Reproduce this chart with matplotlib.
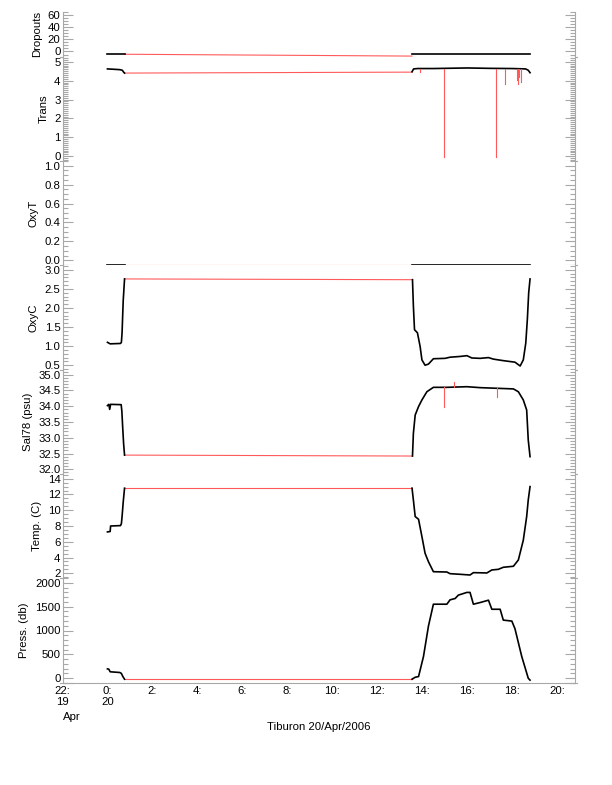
import matplotlib
matplotlib.use("Agg")
import matplotlib.pyplot as plt
import numpy as np

plt.rcParams['font.family'] = ['Liberation Sans', 'DejaVu Sans']
plt.rcParams['font.size'] = 8.2

# ---------------- data (hours since 00:00 20 Apr 2006) ----------------
t1_drop = [0.0, 0.76]
v1_drop = [-4.5, -4.5]
t2_drop = [13.55, 18.82]
v2_drop = [-4.5, -4.5]
gap_drop = [-4.5, -7.5]

t1_trans = [0.0, 0.3, 0.55, 0.66, 0.72, 0.76]
v1_trans = [4.62, 4.60, 4.58, 4.55, 4.45, 4.40]
t2_trans = [13.55, 13.62, 13.8, 14.5, 15.5, 16.0, 17.0, 18.0, 18.6, 18.72, 18.80]
v2_trans = [4.47, 4.62, 4.64, 4.64, 4.66, 4.67, 4.65, 4.64, 4.62, 4.55, 4.42]
gap_trans = [4.40, 4.45]
spike_t = [13.90, 14.99, 17.30, 17.69, 18.21, 18.27, 18.33, 18.41]
spike_v = [4.45, -0.05, -0.05, 3.82, 4.03, 3.82, 4.2, 3.93]

t1_oxyt = [0.0, 0.76]
v1_oxyt = [-0.045, -0.045]
t2_oxyt = [13.57, 18.80]
v2_oxyt = [-0.045, -0.045]
gap_oxyt = [-0.045, -0.045]

t1_oxyc = [0.0, 0.12, 0.58, 0.62, 0.65, 0.70, 0.76]
v1_oxyc = [1.10, 1.06, 1.07, 1.10, 1.35, 2.18, 2.76]
t2_oxyc = [13.57, 13.61, 13.66, 13.79, 13.91, 13.99, 14.13, 14.28, 14.50, 15.02, 15.24,
           15.69, 15.99, 16.21, 16.58, 16.95, 17.17, 17.61, 18.13, 18.36, 18.50, 18.61,
           18.68, 18.74, 18.80]
v2_oxyc = [2.74, 2.05, 1.43, 1.35, 0.99, 0.64, 0.50, 0.53, 0.67, 0.68, 0.71,
           0.73, 0.75, 0.69, 0.68, 0.70, 0.66, 0.62, 0.58, 0.48, 0.64, 1.08,
           1.70, 2.40, 2.76]
gap_oxyc = [2.76, 2.74]

t1_sal = [0.0, 0.06, 0.10, 0.14, 0.61, 0.64, 0.68, 0.72, 0.76]
v1_sal = [34.02, 34.06, 33.9, 34.06, 34.05, 33.85, 33.3, 32.8, 32.45]
t2_sal = [13.57, 13.61, 13.69, 13.84, 13.99, 14.21, 14.50, 15.10, 15.99, 16.58, 17.32,
          18.06, 18.28, 18.50, 18.65, 18.72, 18.80]
v2_sal = [32.42, 33.14, 33.72, 33.99, 34.20, 34.46, 34.60, 34.60, 34.62, 34.59, 34.57,
          34.55, 34.46, 34.20, 33.88, 32.93, 32.40]
gap_sal = [32.45, 32.42]
sal_spike_t = [14.98, 17.32, 15.41]
sal_spike_v = [33.98, 34.30, 34.77]

t1_temp = [0.0, 0.12, 0.14, 0.58, 0.62, 0.65, 0.70, 0.76]
v1_temp = [7.25, 7.3, 8.0, 8.05, 8.3, 9.2, 11.0, 12.8]
t2_temp = [13.55, 13.61, 13.69, 13.84, 13.99, 14.13, 14.28, 14.50, 15.10, 15.24, 15.69,
           16.13, 16.28, 16.88, 17.10, 17.39, 17.61, 18.06, 18.28, 18.50, 18.65, 18.72,
           18.80]
v2_temp = [12.8, 11.3, 9.2, 8.85, 6.65, 4.54, 3.47, 2.2, 2.16, 1.95, 1.87,
           1.78, 2.08, 2.04, 2.42, 2.5, 2.76, 2.89, 3.69, 6.2, 9.2, 11.3, 13.0]
gap_temp = [12.8, 12.8]

t1_press = [0.0, 0.06, 0.12, 0.55, 0.62, 0.68, 0.76]
v1_press = [195, 190, 135, 120, 100, 40, -20]
t2_press = [13.55, 13.69, 13.84, 14.06, 14.28, 14.50, 15.10, 15.24, 15.47, 15.61, 15.99,
            16.13, 16.28, 16.58, 16.95, 17.10, 17.47, 17.61, 17.99, 18.13, 18.43, 18.72,
            18.80]
v2_press = [-20, 20, 35, 457, 1092, 1551, 1551, 1642, 1671, 1741, 1798,
            1798, 1551, 1586, 1635, 1445, 1445, 1218, 1197, 1036, 457, 0,
            -40]
gap_press = [-12, -12]

labels = ["Dropouts", "Trans", "OxyT", "OxyC", "Sal78 (psu)", "Temp. (C)", "Press. (db)"]
ylims = [(-9, 65), (-0.25, 5.25), (-0.05, 1.05), (0.375, 3.125), (31.85, 35.15), (1.4, 14.6), (-100, 2100)]
majors = [20, 1, 0.2, 0.5, 0.5, 2, 500]
minors = [5, 0.1, 0.05, 0.1, 0.1, 0.5, 100]
fmts = ["%d", "%d", "%.1f", "%.1f", "%.1f", "%d", "%d"]

xtick_pos = [-2, 0, 2, 4, 6, 8, 10, 12, 14, 16, 18, 20]
xtick_lab = ["22:\n19", "0:\n20", "2:", "4:", "6:", "8:", "10:", "12:", "14:", "16:", "18:", "20:"]
xlims = (-1.96, 20.8)

series = [
    (t1_drop, v1_drop, t2_drop, v2_drop, gap_drop),
    (t1_trans, v1_trans, t2_trans, v2_trans, gap_trans),
    (t1_oxyt, v1_oxyt, t2_oxyt, v2_oxyt, gap_oxyt),
    (t1_oxyc, v1_oxyc, t2_oxyc, v2_oxyc, gap_oxyc),
    (t1_sal, v1_sal, t2_sal, v2_sal, gap_sal),
    (t1_temp, v1_temp, t2_temp, v2_temp, gap_temp),
    (t1_press, v1_press, t2_press, v2_press, gap_press),
]

# ---------------- layout ----------------
W, H = 612, 785
fig = plt.figure(figsize=(W / 100, H / 100), dpi=100)
xl, xr = 62.5, 575
bounds = [11.7, 57, 161, 265, 370, 474, 578, 683]
grey = '#a8a8a8'
red = '#ff5a5a'

axes = []
for i in range(7):
    top, bot = bounds[i], bounds[i + 1]
    ax = fig.add_axes([xl / W, 1 - bot / H, (xr - xl) / W, (bot - top) / H])
    axes.append(ax)
    t1, v1, t2, v2, gap = series[i]
    ax.plot([t1[-1], t2[0]], gap, color=red, lw=0.8, zorder=2)
    ax.plot(t1, v1, color='black', lw=1.2, zorder=3)
    ax.plot(t2, v2, color='black', lw=1.2, zorder=3)
    if i == 1:
        for st, sv in zip(spike_t, spike_v):
            ax.plot([st, st], [4.6, sv], color=red, lw=0.8, zorder=4)
    if i == 4:
        for st, sv in zip(sal_spike_t, sal_spike_v):
            ax.plot([st, st], [34.6, sv], color=red, lw=0.8, zorder=4)
    ax.set_xlim(*xlims)
    ax.set_ylim(*ylims[i])
    ax.yaxis.set_major_locator(matplotlib.ticker.MultipleLocator(majors[i]))
    ax.yaxis.set_minor_locator(matplotlib.ticker.MultipleLocator(minors[i]))
    ax.yaxis.set_major_formatter(matplotlib.ticker.FormatStrFormatter(fmts[i]))
    ax.tick_params(axis='y', which='both', direction='in', left=True, right=True,
                   color=grey, width=0.8, pad=1.5, labelsize=8.2)
    ax.tick_params(axis='y', which='major', length=7)
    ax.tick_params(axis='y', which='minor', length=3.3)
    for s in ['top', 'bottom']:
        ax.spines[s].set_visible(False)
    for s in ['left', 'right']:
        ax.spines[s].set_color(grey)
        ax.spines[s].set_linewidth(0.8)
    ax.set_ylabel(labels[i], fontsize=8.2, labelpad=4)
    ax.set_xticks(xtick_pos)
    ax.tick_params(axis='x', length=0)
    # short boundary marks
    for xa0, xa1 in [(-0.004, 0.02), (0.98, 1.004)]:
        ax.plot([xa0, xa1], [0, 0], transform=ax.transAxes, color=grey, lw=0.8, clip_on=False)
    if i < 6:
        ax.set_xticklabels([])
    else:
        ax.spines['bottom'].set_visible(True)
        ax.spines['bottom'].set_color(grey)
        ax.spines['bottom'].set_linewidth(0.8)
        ax.set_xticklabels(xtick_lab, fontsize=8.2, linespacing=1.2)
        ax.tick_params(axis='x', pad=2)
        ax.annotate("Apr", xy=(xtick_pos[0], 0), xycoords=('data', 'axes fraction'),
                    xytext=(6.5, -21), textcoords='offset points', ha='center', va='top',
                    fontsize=8.2)

fig.text(((xl + xr) / 2) / W, 1 - 727 / H, "Tiburon 20/Apr/2006", ha='center', va='center', fontsize=8.2)

fig.savefig("out.png", dpi=100)
